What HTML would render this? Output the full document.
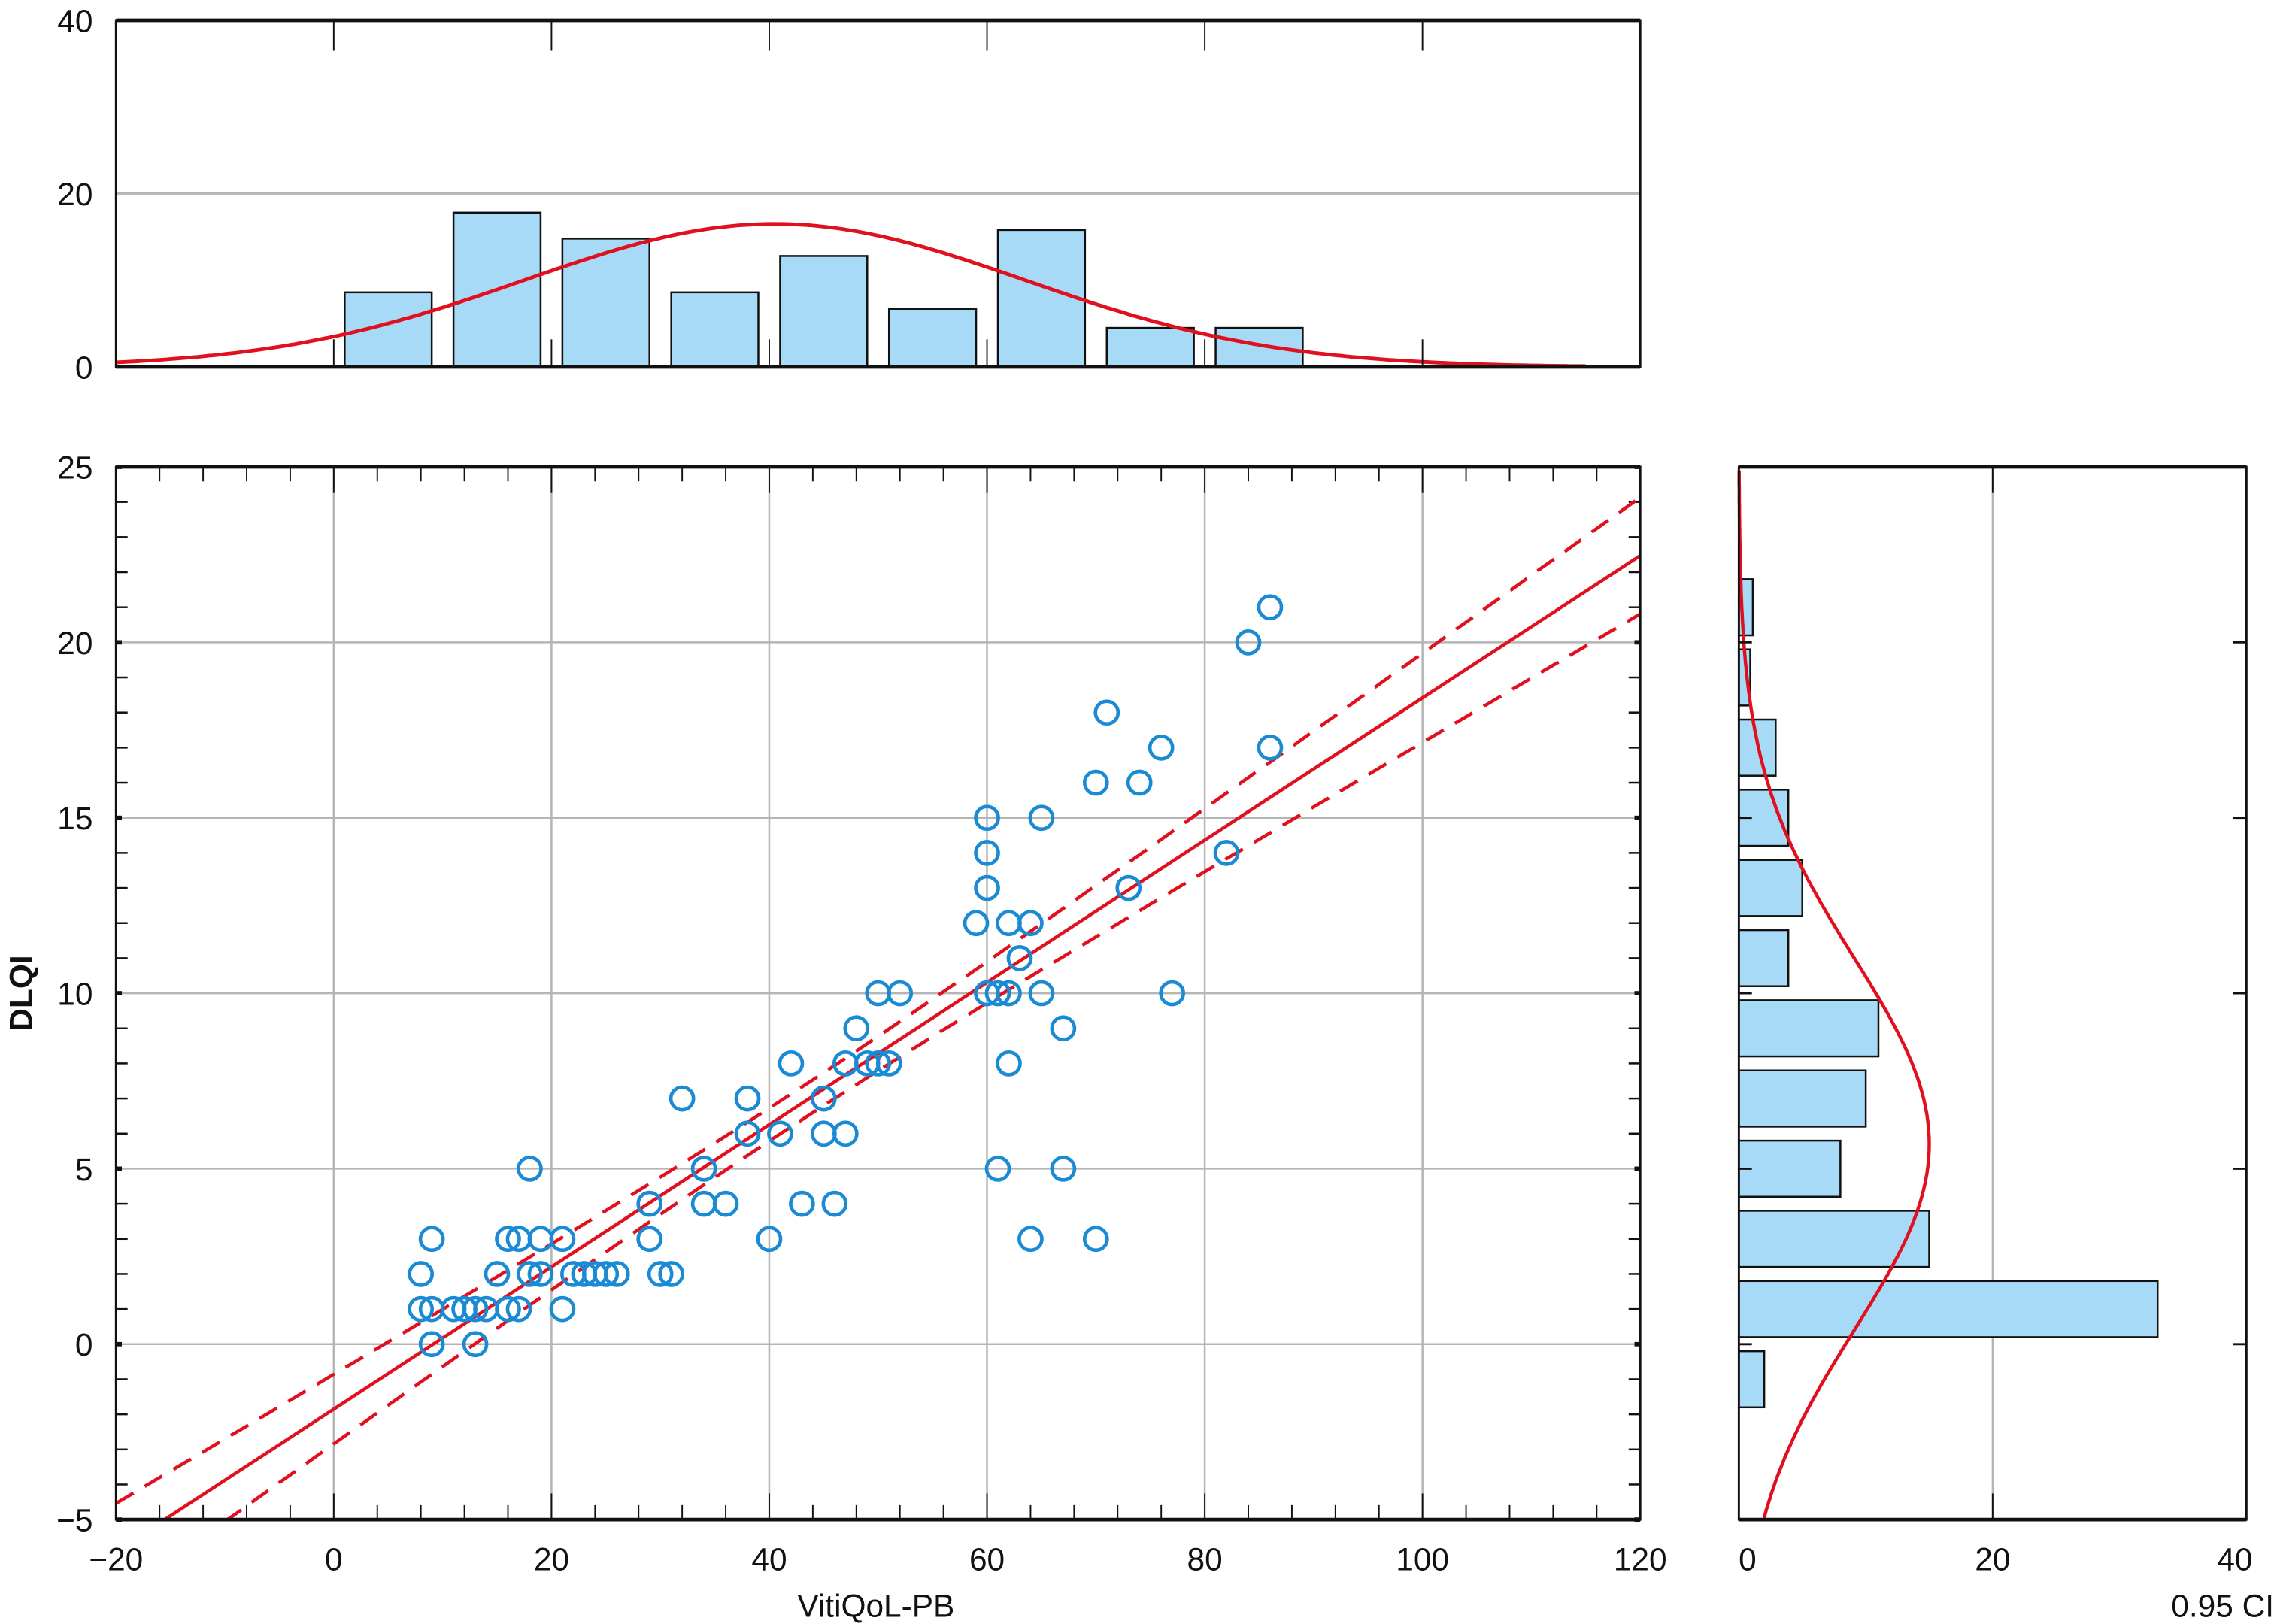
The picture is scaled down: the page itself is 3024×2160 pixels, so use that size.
<!DOCTYPE html>
<html><head><meta charset="utf-8">
<style>html,body{margin:0;padding:0;background:#fff}svg{display:block}text{font-family:"Liberation Sans",sans-serif;fill:#111}</style>
</head><body>
<svg id="chart" xmlns="http://www.w3.org/2000/svg" width="3024" height="2160" viewBox="0 0 1568 1120">
<g id="g"></g>
</svg>
<script>
const pointsX = [8,9,11,12,13,14,16,17,21, 9,13, 8,15,18,19,22,23,24,25,26,30,31, 9,16,17,19,21,29,40,64,70, 29,34,36,43,46, 18,34,61,67, 38,41,45,47, 32,38,45, 42,47,49,50,51,62, 48,67, 50,52,60,61,62,65,77, 63, 59,62,64, 60,73, 60,82, 60,65, 70,74, 76,86, 71, 84, 86];
const pointsY = [1,1,1,1,1,1,1,1,1, 0,0, 2,2,2,2,2,2,2,2,2,2,2, 3,3,3,3,3,3,3,3,3, 4,4,4,4,4, 5,5,5,5, 6,6,6,6, 7,7,7, 8,8,8,8,8,8, 9,9, 10,10,10,10,10,10,10, 11, 12,12,12, 13,13, 14,14, 15,15, 16,16, 17,17, 18, 20, 21];
const topBinStarts = [0,10,20,30,40,50,60,70,80];
const topCounts = [8.6,17.8,14.8,8.6,12.8,6.7,15.8,4.5,4.5];
const rightBinCenters = [21,19,17,15,13,11,9,7,5,3,1,-1];
const rightCounts = [1.1,0.9,2.9,3.9,5,3.9,11,10,8,15,33,2];
const xTicks = [-20,0,20,40,60,80,100,120];
const yTicks = [-5,0,5,10,15,20,25];
const topYTicks = [0,20,40];
const rightXTicks = [0,20,40];
const topCurve = {mean:40.5, sd:23, peak:16.5};
const rightCurve = {mean:5.7, sd:5.3, peak:15};

const NS='http://www.w3.org/2000/svg', G=document.getElementById('g');
function el(t,a,p){const e=document.createElementNS(NS,t);for(const k in a)e.setAttribute(k,a[k]);(p||G).appendChild(e);return e;}
const X=v=>80+(v+20)*(1131-80)/140;
const Y=v=>1048-(v+5)*(1048-322)/30;
const TY=v=>253-v*(253-14)/40;
const RX=v=>1199+v*(1549-1199)/40;

let e;
e=el('line',{x1:80,x2:1131,y1:TY(20),y2:TY(20),stroke:'#b5b5b5','stroke-width':1.5});

topBinStarts.forEach((s,i)=>{
 e=el('rect',{x:X(s+1),y:TY(topCounts[i]),width:X(s+9)-X(s+1),height:TY(0)-TY(topCounts[i]),fill:'#a6daf7',stroke:'#111','stroke-width':1.3});
 
});
let d='';for(let v=-20;v<=115;v+=0.5){const y=topCurve.peak*Math.exp(-Math.pow(v-topCurve.mean,2)/(2*topCurve.sd*topCurve.sd));d+=(d?'L':'M')+X(v).toFixed(1)+','+TY(y).toFixed(1);}
e=el('path',{d,fill:'none',stroke:'#e0101e','stroke-width':2.5});

xTicks.slice(1,-1).forEach(t=>{el('line',{x1:X(t),x2:X(t),y1:14,y2:35,stroke:'#111','stroke-width':1});el('line',{x1:X(t),x2:X(t),y1:253,y2:234,stroke:'#111','stroke-width':1});});
e=el('rect',{x:80,y:14,width:1051,height:239,fill:'none',stroke:'#111','stroke-width':1.5});

el('line',{x1:80,x2:1131,y1:14,y2:14,stroke:'#111','stroke-width':2.5});
el('line',{x1:80,x2:1131,y1:253,y2:253,stroke:'#111','stroke-width':2.5});
topYTicks.forEach(t=>{e=el('text',{x:64,y:TY(t)+8,'font-size':22,'text-anchor':'end'});e.textContent=t;
 });

xTicks.slice(1,-1).forEach(t=>{e=el('line',{x1:X(t),x2:X(t),y1:322,y2:1048,stroke:'#b5b5b5','stroke-width':1.3});});
yTicks.slice(1,-1).forEach(t=>{e=el('line',{x1:80,x2:1131,y1:Y(t),y2:Y(t),stroke:'#b5b5b5','stroke-width':1.3});});
for(let v=-20;v<=120;v+=4){const maj=(v%20===0);const L=maj?18:10;
 el('line',{x1:X(v),x2:X(v),y1:1048,y2:1048-L,stroke:'#111','stroke-width':1});
 el('line',{x1:X(v),x2:X(v),y1:322,y2:322+L,stroke:'#111','stroke-width':1});}
for(let v=-5;v<=25;v++){const maj=(v%5===0);
 el('line',{x1:80,x2:80+(maj?4:8),y1:Y(v),y2:Y(v),stroke:'#111','stroke-width':maj?3:1.3});
 el('line',{x1:1131,x2:1131-(maj?4:8),y1:Y(v),y2:Y(v),stroke:'#111','stroke-width':maj?3:1.3});}
const n=pointsX.length;const mx=pointsX.reduce((a,b)=>a+b,0)/n,my=pointsY.reduce((a,b)=>a+b,0)/n;
let sxx=0,sxy=0;for(let i=0;i<n;i++){sxx+=(pointsX[i]-mx)**2;sxy+=(pointsX[i]-mx)*(pointsY[i]-my);}
const b=sxy/sxx,a=my-b*mx;let sse=0;for(let i=0;i<n;i++)sse+=(pointsY[i]-a-b*pointsX[i])**2;
const s=Math.sqrt(sse/(n-2));
const cp=el('clipPath',{id:'clipMain'});el('rect',{x:80,y:322,width:1051,height:726},cp);
const fit=v=>a+b*v, hw=v=>1.55*s*Math.sqrt(1/n+(v-mx)**2/sxx);
e=el('line',{x1:X(-20),y1:Y(fit(-20)),x2:X(120),y2:Y(fit(120)),stroke:'#e0101e','stroke-width':2.3,'clip-path':'url(#clipMain)'});

[1,-1].forEach(sg=>{let p='';for(let v=-20;v<=120;v+=1){p+=(p?'L':'M')+X(v).toFixed(1)+','+Y(fit(v)+sg*hw(v)).toFixed(1);}
 e=el('path',{d:p,fill:'none',stroke:'#e0101e','stroke-width':2.3,'stroke-dasharray':'14,9','clip-path':'url(#clipMain)'});
 });
for(let i=0;i<n;i++){e=el('circle',{cx:X(pointsX[i]),cy:Y(pointsY[i]),r:7.8,fill:'none',stroke:'#1a8ad4','stroke-width':2.4});
 }
e=el('rect',{x:80,y:322,width:1051,height:726,fill:'none',stroke:'#111','stroke-width':1.5});

el('line',{x1:80,x2:1131,y1:322,y2:322,stroke:'#111','stroke-width':2.5});
el('line',{x1:80,x2:1131,y1:1048,y2:1048,stroke:'#111','stroke-width':2.5});
xTicks.forEach(t=>{e=el('text',{x:X(t),y:1083,'font-size':22,'text-anchor':'middle'});e.textContent=t<0?'\u2212'+(-t):t;
 });
yTicks.forEach(t=>{e=el('text',{x:64,y:Y(t)+8,'font-size':22,'text-anchor':'end'});e.textContent=t<0?'\u2212'+(-t):t;
 });
e=el('text',{x:604,y:1115,'font-size':22,'text-anchor':'middle'});e.textContent='VitiQoL-PB';

e=el('text',{x:0,y:0,'font-size':22,'font-weight':'bold','text-anchor':'middle',transform:'translate(22,685) rotate(-90)'});e.textContent='DLQI';


e=el('line',{x1:RX(20),x2:RX(20),y1:322,y2:1048,stroke:'#b5b5b5','stroke-width':1.3});

rightBinCenters.forEach((c,i)=>{
 e=el('rect',{x:RX(0),y:Y(c+0.8),width:RX(rightCounts[i])-RX(0),height:Y(c-0.8)-Y(c+0.8),fill:'#a6daf7',stroke:'#111','stroke-width':1.3});
 
});
d='';for(let v=-5;v<=25;v+=0.1){const x=rightCurve.peak*Math.exp(-Math.pow(v-rightCurve.mean,2)/(2*rightCurve.sd*rightCurve.sd));d+=(d?'L':'M')+RX(x).toFixed(1)+','+Y(v).toFixed(1);}
e=el('path',{d,fill:'none',stroke:'#e0101e','stroke-width':2.3});

yTicks.slice(1,-1).forEach(t=>{el('line',{x1:1199,x2:1208,y1:Y(t),y2:Y(t),stroke:'#111','stroke-width':1.5});el('line',{x1:1549,x2:1540,y1:Y(t),y2:Y(t),stroke:'#111','stroke-width':1.5});});
el('line',{x1:RX(20),x2:RX(20),y1:322,y2:340,stroke:'#111','stroke-width':1});
el('line',{x1:RX(20),x2:RX(20),y1:1048,y2:1030,stroke:'#111','stroke-width':1});
e=el('rect',{x:1199,y:322,width:350,height:726,fill:'none',stroke:'#111','stroke-width':1.5});

el('line',{x1:1199,x2:1549,y1:322,y2:322,stroke:'#111','stroke-width':2.5});
el('line',{x1:1199,x2:1549,y1:1048,y2:1048,stroke:'#111','stroke-width':2.5});
rightXTicks.forEach(t=>{e=el('text',{x:RX(t)+(t===0?6:t===40?-8:0),y:1083,'font-size':22,'text-anchor':'middle'});e.textContent=t;
 });
e=el('text',{x:1568,y:1115,'font-size':22,'text-anchor':'end'});e.textContent='0.95 CI';

</script>
</body></html>
